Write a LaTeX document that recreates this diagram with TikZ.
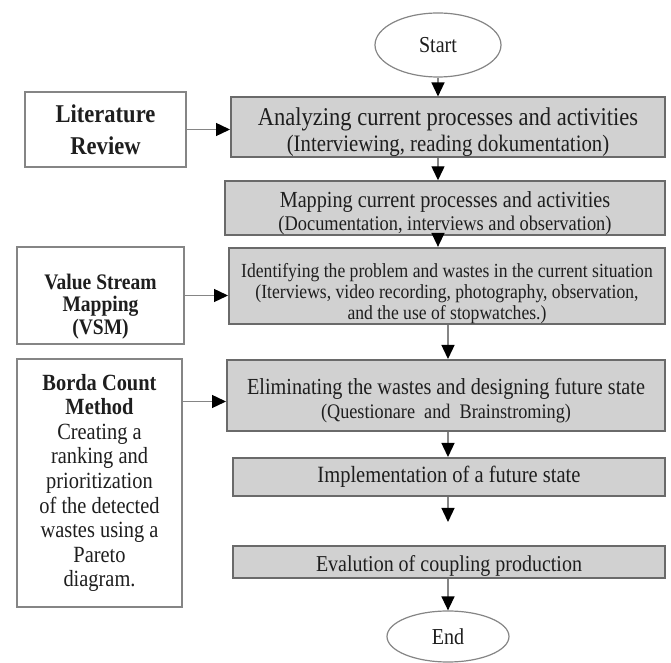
\documentclass[tikz,border=0pt]{standalone}
\usepackage{fontspec}
\setmainfont[FakeStretch=0.88]{Liberation Serif}
\usetikzlibrary{arrows.meta,shapes.geometric}
\definecolor{boxfill}{HTML}{D1D1D1}
\definecolor{boxstroke}{HTML}{6A6A6A}
\definecolor{edgegray}{HTML}{858585}
\definecolor{inkgray}{HTML}{1E1E1E}

\begin{document}
\begin{tikzpicture}[
  x=0.5pt,
  y=-0.5pt,
  every node/.style={
    align=center,
    inner sep=0pt,
    text=inkgray
  },
  process/.style={
    rectangle,
    draw=boxstroke,
    fill=boxfill,
    line width=1pt
  },
  source/.style={
    rectangle,
    draw=edgegray,
    fill=white,
    line width=1pt
  },
  terminal/.style={
    ellipse,
    draw=edgegray,
    fill=white,
    line width=0.6pt,
    font=\fontsize{11.4}{13}\selectfont
  },
  flow/.style={
    draw=edgegray,
    line width=0.7pt,
    -{Triangle[length=7pt,width=6.5pt,color=black]}
  }
]

\path[use as bounding box] (0,0) rectangle (671,663);

% Terminals
\node[terminal, minimum width=63pt, minimum height=32pt] (start) at (438,45) {Start};
\node[terminal, minimum width=61pt, minimum height=25.5pt] (end) at (448,636.5) {End};

% Process steps
\node[process, minimum width=217pt, minimum height=29pt, font=\fontsize{12.8}{13}\selectfont]
  (analyze) at (448,127)
  {\rule{0pt}{14pt}Analyzing current processes and activities\\{\fontsize{11.8}{13}\selectfont (Interviewing, reading dokumentation)}};
\node[process, minimum width=220pt, minimum height=25pt, font=\fontsize{11.5}{11.5}\selectfont]
  (map) at (445,208)
  {\rule{0pt}{13pt}Mapping current processes and activities\\{\fontsize{10.45}{11.5}\selectfont (Documentation, interviews and observation)}};
\node[process, minimum width=218pt, minimum height=38pt, font=\fontsize{10}{10.5}\selectfont]
  (identify) at (447,286)
  {\rule{0pt}{15pt}Identifying the problem and wastes in the current situation\\(Iterviews, video recording, photography, observation,\\and the use of stopwatches.)};
\node[process, minimum width=219pt, minimum height=35.5pt, font=\fontsize{11.5}{12}\selectfont]
  (eliminate) at (446,395.5)
  {\rule{0pt}{13pt}Eliminating the wastes and designing future state\\{\fontsize{10.35}{12}\selectfont (Questionare~ and~ Brainstroming)}};
\node[process, minimum width=216pt, minimum height=19pt, font=\fontsize{11.65}{13}\selectfont]
  (implement) at (449,477) {Implementation of a future state};
\node[process, minimum width=216pt, minimum height=16pt, font=\fontsize{11.36}{13}\selectfont]
  (evaluate) at (449,562) {\rule{0pt}{12pt}Evalution of coupling production};

% Methods on the left
\node[source, minimum width=80.5pt, minimum height=37.5pt, font=\bfseries\fontsize{12.8}{16}\selectfont]
  (lit) at (105.5,129.5) {Literature\\Review};
\node[source, minimum width=83.5pt, minimum height=48.5pt, font=\bfseries\fontsize{11.1}{11.25}\selectfont]
  (vsm) at (100.5,295.5) {\rule{0pt}{18.5pt}Value Stream\\Mapping\\(VSM)};
\node[source, minimum width=82.5pt, minimum height=124pt, font=\fontsize{11.6}{12.3}\selectfont]
  (borda) at (99.5,483)
  {\textbf{Borda Count}\\\textbf{Method}\\Creating a\\ranking and\\prioritization\\of the detected\\wastes using a\\Pareto\\diagram.};

% Main flow
\draw[flow] (start) -- (analyze.north -| start);
\draw[flow] (analyze.south -| start) -- (map.north -| start);
\draw[flow] (map.south -| start) -- (identify.north -| start);
\draw[flow] (identify.south -| end) -- (eliminate.north -| end);
\draw[flow] (eliminate.south -| end) -- (implement.north -| end);
\draw[flow, shorten >=11.5pt] (implement.south -| end) -- (evaluate.north -| end);
\draw[flow] (evaluate.south -| end) -- (end);

% Inputs
\draw[flow] (lit) -- (lit -| analyze.west);
\draw[flow] (vsm) -- (vsm -| identify.west);
\draw[flow] ([yshift=-3pt]eliminate.west -| borda.east) -- ([yshift=-3pt]eliminate.west);

\end{tikzpicture}
\end{document}
